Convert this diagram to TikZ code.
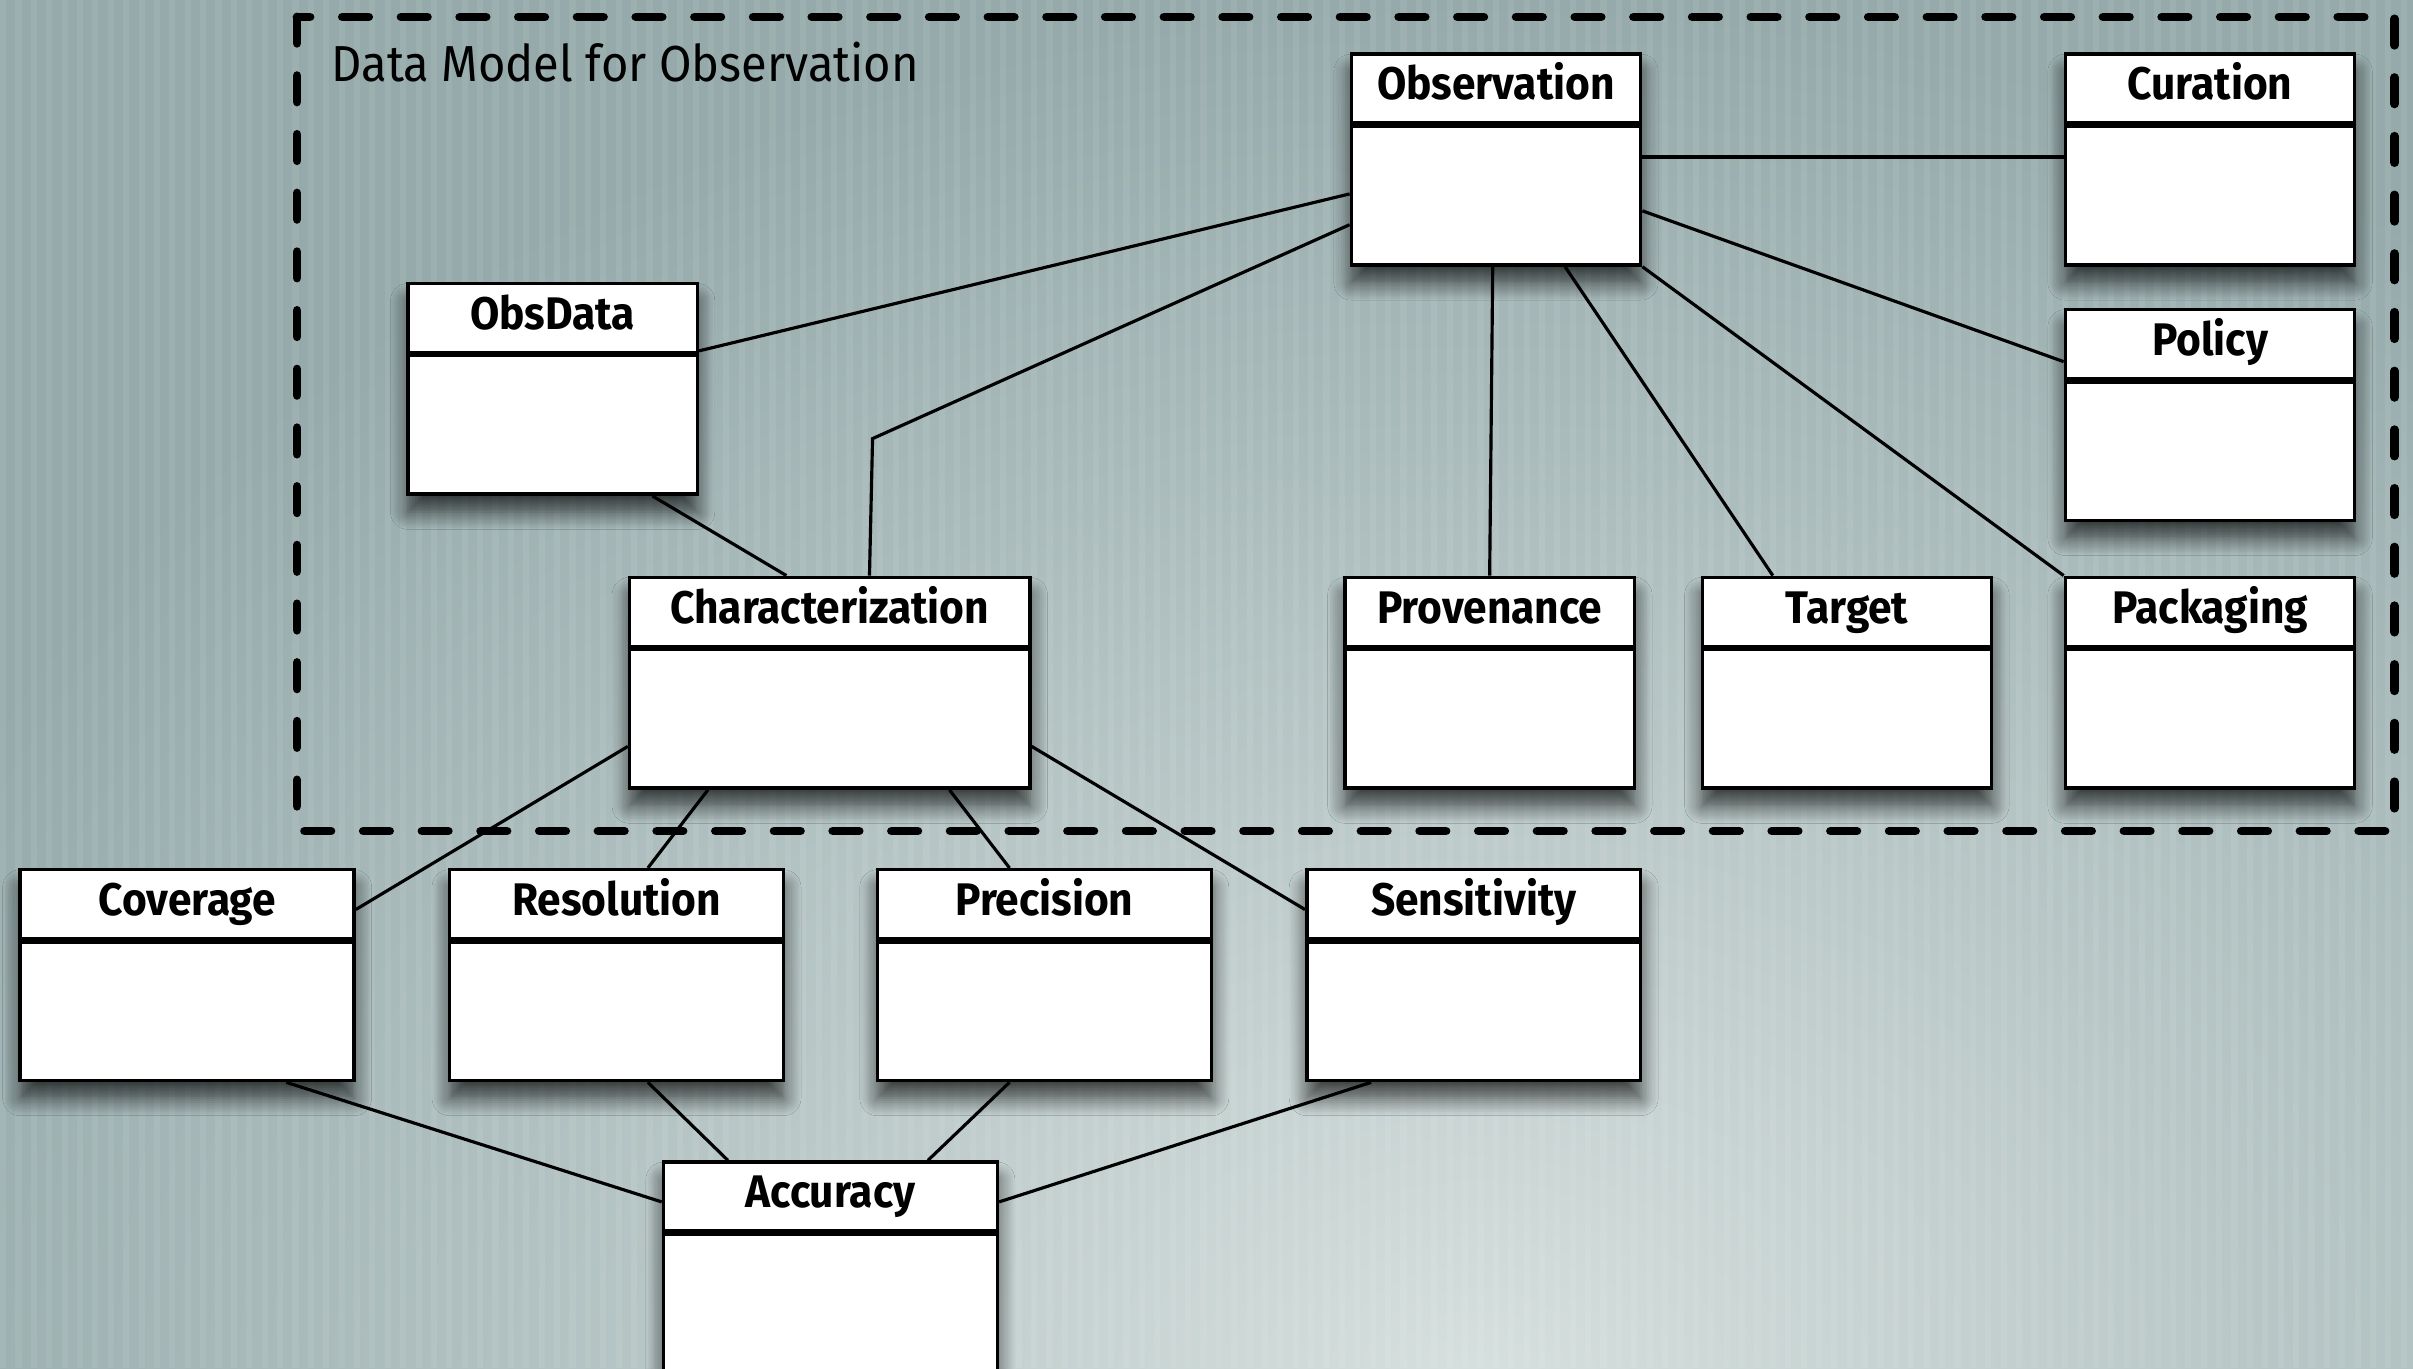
\documentclass[tikz,border=0pt]{standalone}
\usepackage{fontspec}
\setmainfont[FakeStretch=0.93]{Fira Sans}
\usetikzlibrary{backgrounds,shadows.blur}

\definecolor{bgdark}{RGB}{150,170,171}
\definecolor{bglight}{RGB}{214,224,222}

\tikzset{
	umlclass/.style={draw=black, line width=1pt, fill=white, anchor=north west,
		inner xsep=0pt, inner ysep=0pt, text height=13pt, text depth=47pt,
		font=\fontsize{13}{15}\selectfont\bfseries,
		blur shadow={shadow xshift=0pt, shadow yshift=-5pt, shadow opacity=70, shadow blur radius=5pt, shadow blur steps=10},
		path picture={\draw[line width=1.9pt] ([yshift=-20.1pt]path picture bounding box.north west) -- ([yshift=-20.1pt]path picture bounding box.north east);}},
	narrowclass/.style={umlclass, minimum width=82.3pt},
	wideclass/.style={umlclass, minimum width=95.0pt},
	link/.style={draw=black, line width=0.9pt},
}

\begin{document}
\begin{tikzpicture}[x=0.4379pt, y=-0.4379pt]
	\useasboundingbox (0,0) rectangle (1568,889);

	% model classes
	\node[narrowclass] (obs) at (877,34) {Observation};
	\node[narrowclass] (cur) at (1341,34) {Curation};
	\node[narrowclass] (obsdata) at (264,183) {ObsData};
	\node[narrowclass] (pol) at (1341,200) {Policy};
	\node[umlclass, minimum width=113.9pt] (charz) at (408,374) {Characterization};
	\node[narrowclass] (prov) at (873,374) {Provenance};
	\node[narrowclass] (tgt) at (1105,374) {Target};
	\node[narrowclass] (pack) at (1341,374) {Packaging};
	\node[wideclass] (cov) at (12,564) {Coverage};
	\node[wideclass] (res) at (291,564) {Resolution};
	\node[wideclass] (prec) at (569,564) {Precision};
	\node[wideclass] (sens) at (848,564) {Sensitivity};
	\node[wideclass] (acc) at (430,754) {Accuracy};

	\node[anchor=base west, inner sep=0pt, font=\fontsize{14.4}{16}\selectfont] (title) at (215,53) {Data Model for Observation};

	\begin{scope}[on background layer]
		\fill[bgdark] (0,0) rectangle (1568,889);
		\shade[inner color=bglight, outer color=bgdark] (960,900) ellipse [x radius=1100, y radius=900];
		\foreach \sx in {0,10,...,1570}
			\fill[white, opacity=0.07] (\sx,0) rectangle ++(4,889);

		\draw[black, line width=2.5pt, line cap=round, dash pattern=on 7.5pt off 9.2pt] (193,11) rectangle (1556,540);

		% associations
		\draw[link] (obs.west |- 0,126) -- (obsdata.east |- 0,228);
		\draw[link] (obs.west |- 0,146) -- (567,285) -- (565,0 |- charz.north);
		\draw[link] (obs.east |- 0,102) -- (cur.west |- 0,102);
		\draw[link] (obs.east |- 0,137) -- (pol.west |- 0,235);
		\draw[link] (970,0 |- obs.south) -- (968,0 |- prov.north);
		\draw[link] (1017,0 |- obs.south) -- (1152,0 |- tgt.north);
		\draw[link] (obs.south east) -- (pack.north west);
		\draw[link] (424,0 |- obsdata.south) -- (511,0 |- charz.north);
		\draw[link] (charz.west |- 0,485) -- (cov.east |- 0,591);
		\draw[link] (460,0 |- charz.south) -- (421,0 |- res.north);
		\draw[link] (617,0 |- charz.south) -- (656,0 |- prec.north);
		\draw[link] (charz.east |- 0,485) -- (sens.west |- 0,591);
		\draw[link] (186,0 |- cov.south) -- (acc.west |- 0,781);
		\draw[link] (421,0 |- res.south) -- (473,0 |- acc.north);
		\draw[link] (656,0 |- prec.south) -- (603,0 |- acc.north);
		\draw[link] (891,0 |- sens.south) -- (acc.east |- 0,781);
	\end{scope}
\end{tikzpicture}
\end{document}
